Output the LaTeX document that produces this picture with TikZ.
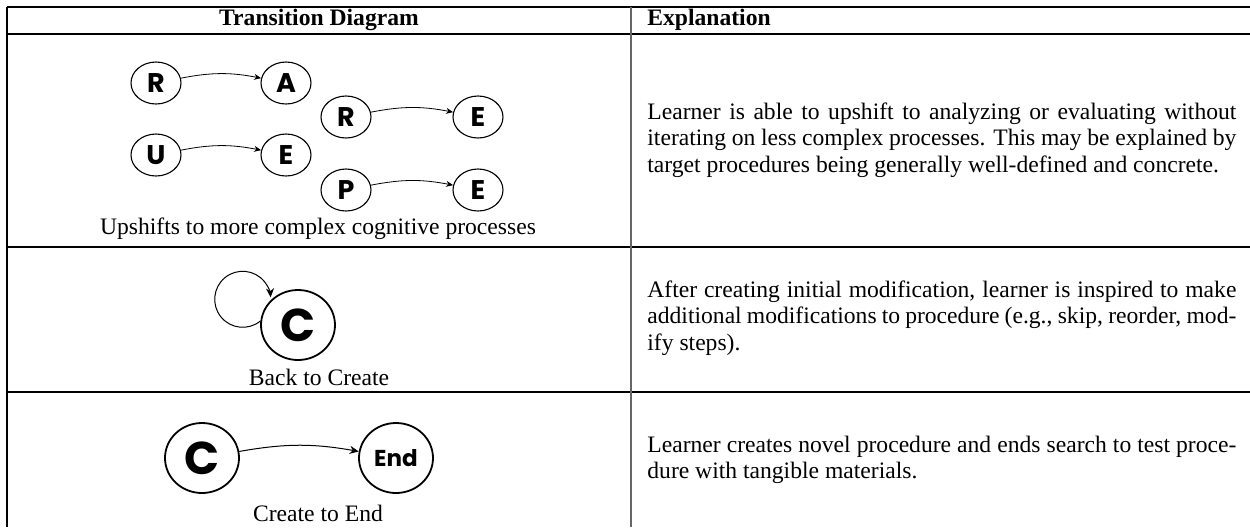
\documentclass[tikz,border=0pt]{standalone}
\usepackage{fontspec}
\setmainfont{Liberation Serif}
\newfontfamily\lettfont{Poppins}
\usetikzlibrary{shapes.geometric,arrows.meta}
\begin{document}
\begin{tikzpicture}[x=0.5pt,y=0.5pt,
  st/.style={ellipse,draw,line width=0.55pt,minimum width=25pt,minimum height=21pt,inner sep=0pt,
    font=\lettfont\bfseries\fontsize{13.5}{13.5}\selectfont},
  bigst/.style={ellipse,draw,line width=0.9pt,minimum width=37pt,minimum height=35pt,inner sep=0pt},
  tr/.style={-{Stealth[length=3.5pt,width=3pt]},line width=0.4pt},
  bigtr/.style={-{Stealth[length=4.5pt,width=4pt]},line width=0.5pt},
  captxt/.style={inner sep=0pt,font=\fontsize{11.8}{13.25}\selectfont},
  hd/.style={inner sep=0pt,font=\bfseries\fontsize{11.8}{13.25}\selectfont},
  expl/.style={inner sep=0pt,anchor=west,text width=294.5pt,align=justify,
    font=\fontsize{11.8}{13.25}\selectfont},
  tabrule/.style={line width=0.55pt,black},
]
\useasboundingbox (0,0) rectangle (1250,-527);
% table rules
\draw[tabrule] (7,-7) -- (1250,-7);
\draw[line width=1pt] (7,-34) -- (1250,-34);
\draw[tabrule] (7,-247) -- (1250,-247);
\draw[tabrule] (7,-392) -- (1250,-392);
\draw[tabrule] (7,-7) -- (7,-527);
\draw[line width=0.6pt,black!60] (631,-7) -- (631,-527);
% headers
\node[hd] (h1) at (319,-20) {Transition Diagram};
\node[hd,anchor=west] (h2) at (647,-20) {Explanation};
% row 1
\node[st] (r1) at (156,-83) {R};
\node[st] (a1) at (286,-83) {A};
\node[st] (r2) at (346,-117) {R};
\node[st] (e2) at (478,-117) {E};
\node[st] (u1) at (156,-155) {U};
\node[st] (e1) at (286,-155) {E};
\node[st] (p1) at (346,-190) {P};
\node[st] (e3) at (478,-190) {E};
\draw[tr] (r1) to[bend left=11] (a1);
\draw[tr] (r2) to[bend left=11] (e2);
\draw[tr] (u1) to[bend left=11] (e1);
\draw[tr] (p1) to[bend left=11] (e3);
\node[captxt] (c1) at (318,-229) {Upshifts to more complex cognitive processes};
\node[expl] (x1) at (647,-140) {Learner is able to upshift to analyzing or evaluating without\linebreak iterating on less complex processes. This may be explained by\linebreak target procedures being generally well-defined and concrete.};
% row 2
\node[bigst,font=\lettfont\bfseries\fontsize{23}{23}\selectfont] (cc) at (298,-325) {C};
\draw[bigtr] (cc.174) arc[start angle=-51,end angle=-356,radius=14pt];
\node[captxt] (c2) at (319,-377) {Back to Create};
\node[expl] (x2) at (647,-318) {After creating initial modification, learner is inspired to make\linebreak additional modifications to procedure (e.g., skip, reorder, mod-\linebreak ify steps).};
% row 3
\node[bigst,font=\lettfont\bfseries\fontsize{23}{23}\selectfont] (c3) at (202,-458) {C};
\node[bigst,font=\lettfont\bfseries\fontsize{11.5}{11.5}\selectfont] (en) at (396,-458) {End};
\draw[bigtr] (c3) to[bend left=10] (en);
\node[captxt] (c4) at (318,-513) {Create to End};
\node[expl] (x3) at (647,-460) {Learner creates novel procedure and ends search to test proce-\linebreak dure with tangible materials.};
\end{tikzpicture}
\end{document}
